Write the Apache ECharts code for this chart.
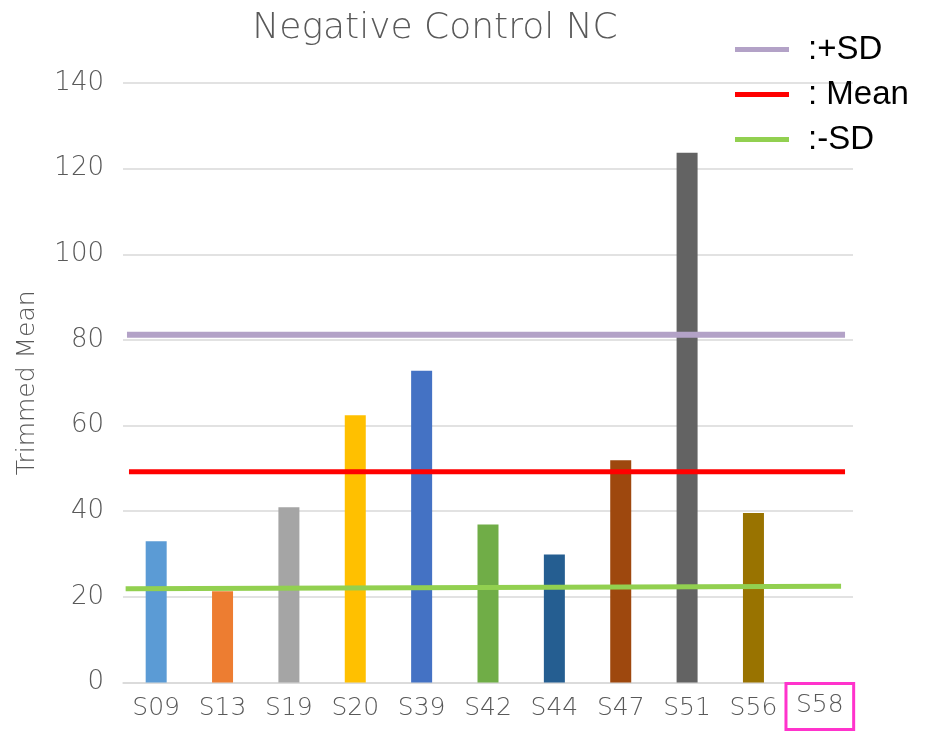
<!DOCTYPE html>
<html>
<head>
<meta charset="utf-8">
<title>Negative Control NC</title>
<script src="https://cdn.jsdelivr.net/npm/echarts@6/dist/echarts.min.js"></script>
<style>
  html, body { margin: 0; padding: 0; background: #fff; }
  #chart { width: 925px; height: 731px; }
</style>
</head>
<body>
<div id="chart"></div>
<script type="text/javascript">
// samples on the x axis
var categories = ['S09', 'S13', 'S19', 'S20', 'S39', 'S42', 'S44', 'S47', 'S51', 'S56', 'S58'];
// trimmed mean per sample (S58 has no bar)
var trimmedMean = [33.0, 21.3, 40.9, 62.4, 72.8, 36.9, 29.9, 51.9, 123.7, 39.6, 0];
var barColors = ['#5B9BD5', '#ED7D31', '#A5A5A5', '#FFC000', '#4472C4', '#70AD47',
                 '#255E91', '#9E480E', '#636363', '#997300', '#43682B'];
var yTicks = [0, 20, 40, 60, 80, 100, 120, 140];

// reference lines, [position along the categories, value]
var plusSD  = [[-0.44, 81.2], [10.38, 81.2]];
var meanLine = [[-0.41, 49.2], [10.38, 49.2]];
var minusSD = [[-0.46, 21.9], [10.32, 22.5]];

var highlighted = 'S58';
var gray = '#595959';
var font = '"DejaVu Sans", sans-serif';

var barData = [];
for (var i = 0; i < trimmedMean.length; i++) {
    barData.push({ value: trimmedMean[i], itemStyle: { color: barColors[i] } });
}

function refLine(name, color, pts, w) {
    return {
        name: name,
        type: 'line',
        xAxisIndex: 1,
        data: pts,
        symbol: 'none',
        silent: true,
        lineStyle: { color: color, width: w },
        itemStyle: { color: color },
        z: 5
    };
}

var myChart = echarts.init(document.getElementById('chart'), null, { renderer: 'canvas' });

var option = {
    animation: false,
    backgroundColor: '#fff',
    textStyle: { fontFamily: font, fontWeight: 200 },
    title: {
        text: 'Negative Control NC',
        left: 430,
        textAlign: 'center',
        top: 6,
        textStyle: { color: gray, fontSize: 36, fontWeight: 200, fontFamily: font }
    },
    legend: {
        orient: 'vertical',
        left: 730,
        top: 28,
        itemWidth: 54,
        itemHeight: 5,
        itemGap: 12,
        icon: 'rect',
        textStyle: { color: '#000', fontSize: 33, fontFamily: '"Liberation Sans", Arial, sans-serif', fontWeight: 'normal', padding: [0, 0, 0, 14] },
        data: [':+SD', ': Mean', ':-SD']
    },
    grid: { left: 123, right: 72, top: 83, bottom: 48.5, containLabel: false },
    xAxis: [{
        type: 'category',
        data: categories,
        axisTick: { show: false },
        axisLine: { lineStyle: { color: '#D9D9D9', width: 1.5 } },
        axisLabel: {
            color: gray,
            fontSize: 25,
            fontWeight: 200,
            margin: 1,
            interval: 0,
            formatter: function (v) { return v === highlighted ? '{hl|' + v + '}' : '{n|' + v + '}'; },
            rich: {
                n: {
                    color: gray,
                    fontSize: 25,
                    fontWeight: 200,
                    padding: [12, 11, 8, 11]
                },
                hl: {
                    color: gray,
                    fontSize: 25,
                    fontWeight: 200,
                    borderColor: '#FF33CC',
                    borderWidth: 3,
                    padding: [9, 10, 12, 10]
                }
            }
        }
    }, {
        type: 'value',
        min: -0.5,
        max: 10.5,
        show: false
    }],
    yAxis: {
        type: 'value',
        min: 0,
        max: yTicks[yTicks.length - 1],
        interval: 20,
        name: 'Trimmed Mean',
        nameLocation: 'middle',
        nameGap: 83,
        nameTextStyle: { color: gray, fontSize: 25, fontWeight: 200 },
        axisLine: { show: false },
        axisTick: { show: false },
        axisLabel: { color: gray, fontSize: 26, fontWeight: 200, margin: 19 },
        splitLine: { lineStyle: { color: '#D9D9D9', width: 1.5 } }
    },
    series: [{
        name: 'Trimmed Mean',
        type: 'bar',
        data: barData,
        barWidth: 21
    },
        refLine(':+SD', '#B3A2C7', plusSD, 6),
        refLine(': Mean', '#FF0000', meanLine, 5),
        refLine(':-SD', '#92D050', minusSD, 5)
    ]
};

myChart.setOption(option);
</script>
</body>
</html>
